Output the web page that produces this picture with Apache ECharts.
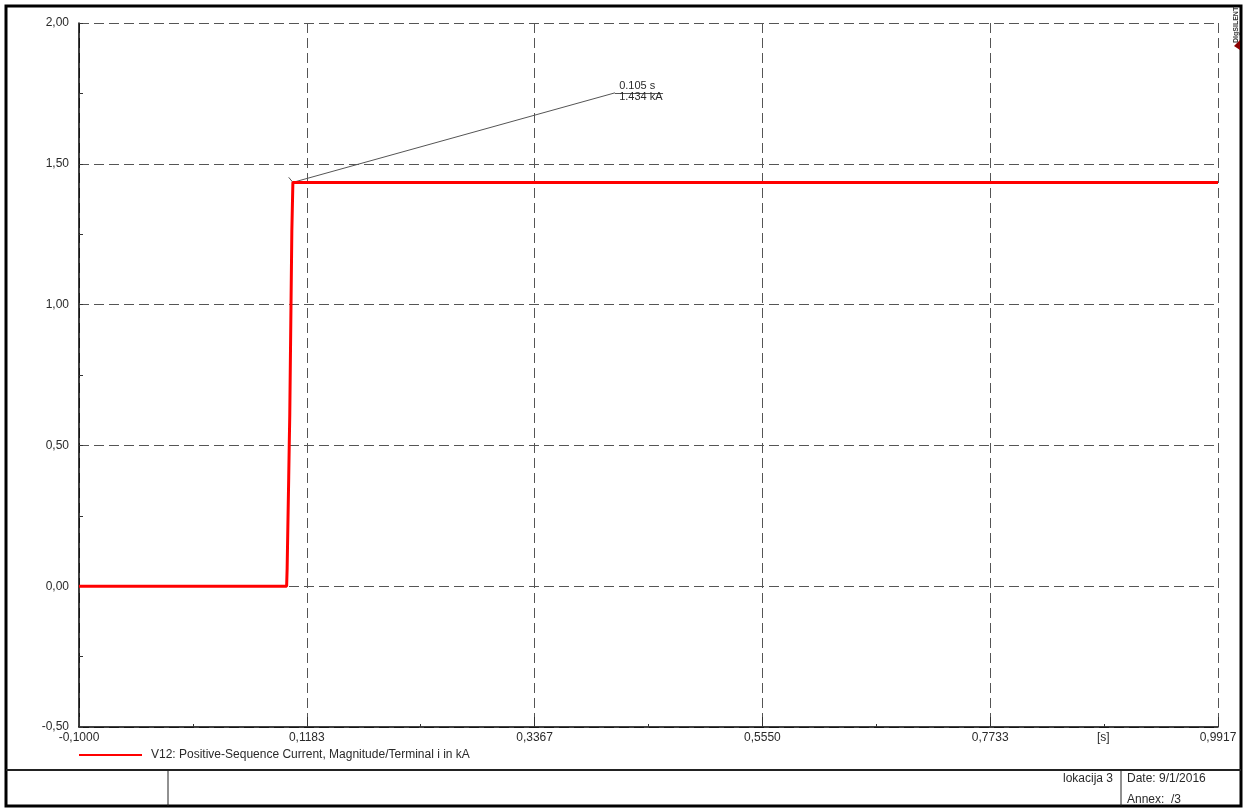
<!DOCTYPE html>
<html>
<head>
<meta charset="utf-8">
<script src="https://cdn.jsdelivr.net/npm/echarts@6/dist/echarts.min.js"></script>
<style>
html,body{margin:0;padding:0;background:#fff;}
#chart{width:1245px;height:808px;}
</style>
</head>
<body>
<div id="chart"></div>
<script>
// ---- data ----
const timeS = [-0.1, 0.0990, 0.0995, 0.1010, 0.1015, 0.1020, 0.1030, 0.1040, 0.1050, 0.9917];
const currentKA = [0, 0, 0.064, 0.387, 0.50, 0.606, 0.936, 1.262, 1.434, 1.434];
const xStart = -0.1;
const xTickStep = 0.655 / 3;          // 0.21833 s
const xTickCount = 5;
const yMin = -0.5, yMax = 2.0, yStep = 0.5;
const seriesName = 'V12: Positive-Sequence Current, Magnitude/Terminal i in kA';
const cursorT = 0.105, cursorI = 1.434;
const cursorTextT = 0.4137, cursorTextI = 1.752, cursorUnderlineEndT = 0.4598;
const cursorLabels = ['0.105 s', '1.434 kA'];
const footerTexts = {loc: 'lokacija 3', date: 'Date: 9/1/2016', annex: 'Annex:  /3'};

const FONT = 'Liberation Sans, Arial, sans-serif';
const u = t => t - xStart;   // shift so axis min is 0 (multiple of interval)
const fmtX = v => (v + xStart).toFixed(4).replace('.', ',');
const fmtY = v => v.toFixed(2).replace('.', ',');

const lineData = timeS.map((t, i) => [u(t), currentKA[i]]);
const dash = {color: '#555', width: 1, type: [10, 5]};
const TXT = '#2a2a2a';

const chart = echarts.init(document.getElementById('chart'), null, {renderer: 'canvas'});
chart.setOption({
  animation: false,
  backgroundColor: '#fff',
  grid: {left: 79, right: 27, top: 23, bottom: 81, containLabel: false},
  legend: {
    show: true, left: 79, top: 749, padding: 0, itemWidth: 63, itemHeight: 2, itemGap: 10,
    icon: 'rect',
    textStyle: {fontFamily: FONT, fontSize: 12, color: TXT, padding: [0, 0, 0, 4]},
    data: [{name: seriesName, itemStyle: {color: '#ff0000'}}]
  },
  xAxis: {
    type: 'value', min: 0, max: xTickStep * xTickCount, interval: xTickStep,
    axisLine: {show: true, onZero: false, lineStyle: {color: '#000', width: 1.5}},
    axisTick: {show: true, inside: true, length: 10, lineStyle: {color: '#333'}},
    minorTick: {show: true, splitNumber: 2, length: 3, lineStyle: {color: '#333'}},
    axisLabel: {formatter: fmtX, fontFamily: FONT, fontSize: 12, color: TXT, margin: 5,
      showMinLabel: true, showMaxLabel: true},
    splitLine: {show: true, lineStyle: dash}
  },
  yAxis: {
    type: 'value', min: yMin, max: yMax, interval: yStep,
    axisLine: {show: true, onZero: false, lineStyle: {color: '#000', width: 1.5}},
    axisTick: {show: true, inside: true, length: 4, lineStyle: {color: '#333'}},
    minorTick: {show: true, splitNumber: 2, length: 4, lineStyle: {color: '#333'}},
    axisLabel: {formatter: fmtY, fontFamily: FONT, fontSize: 12, color: TXT, margin: 10},
    splitLine: {show: true, lineStyle: dash}
  },
  series: [{
    name: seriesName, type: 'line', data: lineData, showSymbol: false, symbol: 'none',
    lineStyle: {color: '#ff0000', width: 3}, itemStyle: {color: '#ff0000'},
    clip: true, z: 5,
    markLine: {
      silent: true, symbol: ['none', 'none'], label: {show: false},
      lineStyle: {color: '#555', width: 1, type: 'solid'},
      data: [
        [{coord: [u(cursorT), cursorI]}, {coord: [u(cursorTextT), cursorTextI]}],
        [{coord: [u(cursorTextT), cursorTextI]}, {coord: [u(cursorUnderlineEndT), cursorTextI]}],
        [{coord: [u(cursorT) - 0.004, cursorI + 0.018]}, {coord: [u(cursorT), cursorI]}]
      ]
    },
    markPoint: {
      silent: true, symbol: 'circle', symbolSize: 0,
      data: [
        {coord: [u(cursorTextT) + 0.004, cursorTextI], label: {show: true, position: [0, -12], formatter: cursorLabels[0], fontFamily: FONT, fontSize: 11, color: TXT, align: 'left', verticalAlign: 'top'}},
        {coord: [u(cursorTextT) + 0.004, cursorTextI], label: {show: true, position: [0, -1], formatter: cursorLabels[1], fontFamily: FONT, fontSize: 11, color: TXT, align: 'left', verticalAlign: 'top'}}
      ]
    }
  }],
  graphic: [
    {type: 'rect', shape: {x: 6, y: 6, width: 1235, height: 800}, style: {fill: 'none', stroke: '#000', lineWidth: 3}, silent: true, z: 100},
    {type: 'line', shape: {x1: 6, y1: 770, x2: 1241, y2: 770}, style: {stroke: '#222', lineWidth: 2}, silent: true, z: 100},
    {type: 'line', shape: {x1: 168, y1: 770, x2: 168, y2: 806}, style: {stroke: '#222', lineWidth: 1}, silent: true, z: 100},
    {type: 'line', shape: {x1: 1121, y1: 770, x2: 1121, y2: 806}, style: {stroke: '#222', lineWidth: 1}, silent: true, z: 100},
    {type: 'text', left: 1097, top: 732, style: {text: '[s]', font: '12px ' + FONT, fill: TXT}, silent: true},
    {type: 'text', right: 1245 - 1113, top: 773, style: {text: footerTexts.loc, font: '12px ' + FONT, fill: TXT}, silent: true},
    {type: 'text', left: 1127, top: 773, style: {text: footerTexts.date, font: '12px ' + FONT, fill: TXT}, silent: true},
    {type: 'text', left: 1127, top: 794, style: {text: footerTexts.annex, font: '12px ' + FONT, fill: TXT}, silent: true},
    {type: 'text', x: 1233, y: 43, rotation: Math.PI / 2, style: {text: 'DIgSILENT', font: 'bold 7px ' + FONT, fill: '#333'}, silent: true, z: 100},
    {type: 'polygon', shape: {points: [[1234, 46], [1240, 40], [1240, 50]]}, style: {fill: '#8b0000'}, silent: true, z: 100}
  ]
});
</script>
</body>
</html>
